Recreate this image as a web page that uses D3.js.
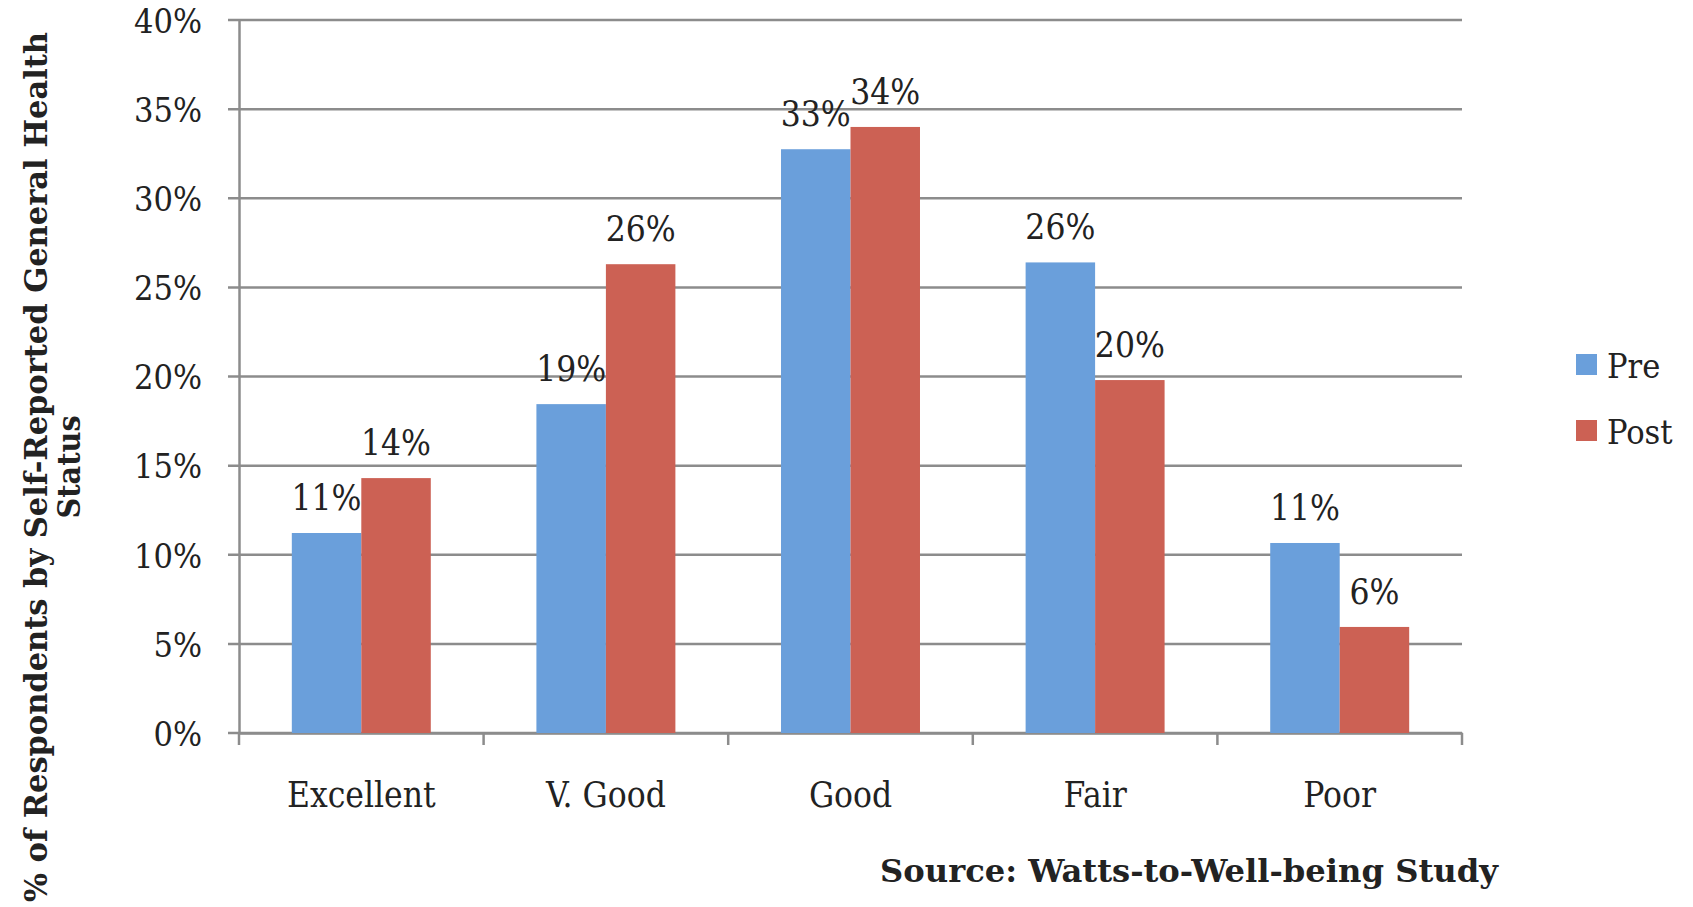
<!DOCTYPE html>
<html>
<head>
<meta charset="utf-8">
<script src="https://cdn.jsdelivr.net/npm/d3@7"></script>
<style>
  body { margin: 0; background: #fff; }
  text { font-family: "DejaVu Serif Condensed", "DejaVu Serif", serif; font-stretch: condensed; fill: #222; }
</style>
</head>
<body>
<svg id="chart" width="1693" height="907"></svg>
<script>
// chart data
const categories = ['Excellent', 'V. Good', 'Good', 'Fair', 'Poor'];
const seriesNames = ['Pre', 'Post'];
const preValues = [0.1122, 0.1845, 0.3275, 0.264, 0.1066];
const postValues = [0.143, 0.263, 0.340, 0.198, 0.0595];
const preLabels = ['11%', '19%', '33%', '26%', '11%'];
const postLabels = ['14%', '26%', '34%', '20%', '6%'];
const yTicks = [0, 0.05, 0.10, 0.15, 0.20, 0.25, 0.30, 0.35, 0.40];
const colors = { Pre: '#6a9fdb', Post: '#cc6154' };

const margin = { top: 20, left: 239, right: 231, bottom: 174 };
const width = 1693, height = 907;
const gridColor = '#8c8c8c';

const svg = d3.select('#chart');

const x = d3.scaleBand()
  .domain(categories)
  .range([margin.left, width - margin.right]);

const inner = d3.scaleBand()
  .domain(seriesNames)
  .range([0, x.bandwidth()])
  .paddingInner(0)
  .paddingOuter(0.76);

const y = d3.scaleLinear()
  .domain([0, 0.40])
  .range([height - margin.bottom, margin.top]);

/* gridlines */
svg.append('g')
  .selectAll('line')
  .data(yTicks)
  .enter().append('line')
  .attr('x1', margin.left - 11)
  .attr('x2', width - margin.right)
  .attr('y1', d => y(d))
  .attr('y2', d => y(d))
  .attr('stroke', gridColor)
  .attr('stroke-width', 2.5);

/* y axis */
const yAxis = d3.axisLeft(y)
  .tickValues(yTicks)
  .tickFormat(d3.format('.0%'))
  .tickSize(0)
  .tickPadding(37);
const gy = svg.append('g')
  .attr('transform', 'translate(' + margin.left + ',0)')
  .call(yAxis);
gy.select('.domain').attr('stroke', gridColor).attr('stroke-width', 2.5);
gy.selectAll('text')
  .attr('dy', '0.36em')
  .style('font-size', '34px')
  .style('font-family', null)
  .attr('fill', '#222');

/* x axis */
const xAxis = d3.axisBottom(x).tickSize(0).tickPadding(56);
const gx = svg.append('g')
  .attr('transform', 'translate(0,' + y(0) + ')')
  .call(xAxis);
gx.select('.domain').attr('stroke', gridColor).attr('stroke-width', 2.5);
gx.selectAll('text')
  .attr('dy', '0.5em')
  .style('font-size', '35px')
  .style('font-family', null)
  .attr('fill', '#222');
// category separators
gx.selectAll('.sep')
  .data(d3.range(categories.length + 1))
  .enter().append('line')
  .attr('class', 'sep')
  .attr('x1', i => margin.left + i * x.step())
  .attr('x2', i => margin.left + i * x.step())
  .attr('y1', 0)
  .attr('y2', 12)
  .attr('stroke', gridColor)
  .attr('stroke-width', 2.5);

/* bars */
const rows = categories.map((c, i) => ({
  cat: c,
  items: [
    { s: 'Pre', v: preValues[i], label: preLabels[i] },
    { s: 'Post', v: postValues[i], label: postLabels[i] }
  ]
}));

const groups = svg.append('g')
  .selectAll('g')
  .data(rows)
  .enter().append('g')
  .attr('transform', d => 'translate(' + x(d.cat) + ',0)');

groups.selectAll('rect')
  .data(d => d.items)
  .enter().append('rect')
  .attr('x', d => inner(d.s))
  .attr('y', d => y(d.v))
  .attr('width', inner.bandwidth())
  .attr('height', d => y(0) - y(d.v))
  .attr('fill', d => colors[d.s]);

groups.selectAll('text')
  .data(d => d.items)
  .enter().append('text')
  .attr('x', d => inner(d.s) + inner.bandwidth() / 2)
  .attr('y', d => y(d.v) - 23)
  .attr('text-anchor', 'middle')
  .style('font-size', '35px')
  .text(d => d.label);

/* y axis title */
const title = svg.append('text')
  .attr('transform', 'translate(47,467) rotate(-90)')
  .attr('text-anchor', 'middle')
  .style('font-size', '32px')
  .style('font-weight', 'bold');
title.append('tspan').attr('x', 0).attr('y', 0)
  .attr('textLength', 870)
  .attr('lengthAdjust', 'spacingAndGlyphs')
  .text('% of Respondents by Self-Reported General Health');
title.append('tspan').attr('x', 0).attr('y', 33)
  .text('Status');

/* source */
svg.append('text')
  .attr('x', 880)
  .attr('y', 882)
  .attr('textLength', 618)
  .attr('lengthAdjust', 'spacingAndGlyphs')
  .style('font-size', '32px')
  .style('font-weight', 'bold')
  .text('Source: Watts-to-Well-being Study');

/* legend */
const legend = svg.append('g')
  .selectAll('g')
  .data(seriesNames)
  .enter().append('g')
  .attr('transform', (d, i) => 'translate(1576,' + (354 + i * 66) + ')');
legend.append('rect')
  .attr('width', 21)
  .attr('height', 21)
  .attr('fill', d => colors[d]);
legend.append('text')
  .attr('x', 31)
  .attr('y', 24)
  .style('font-size', '34px')
  .text(d => d);
</script>
</body>
</html>
